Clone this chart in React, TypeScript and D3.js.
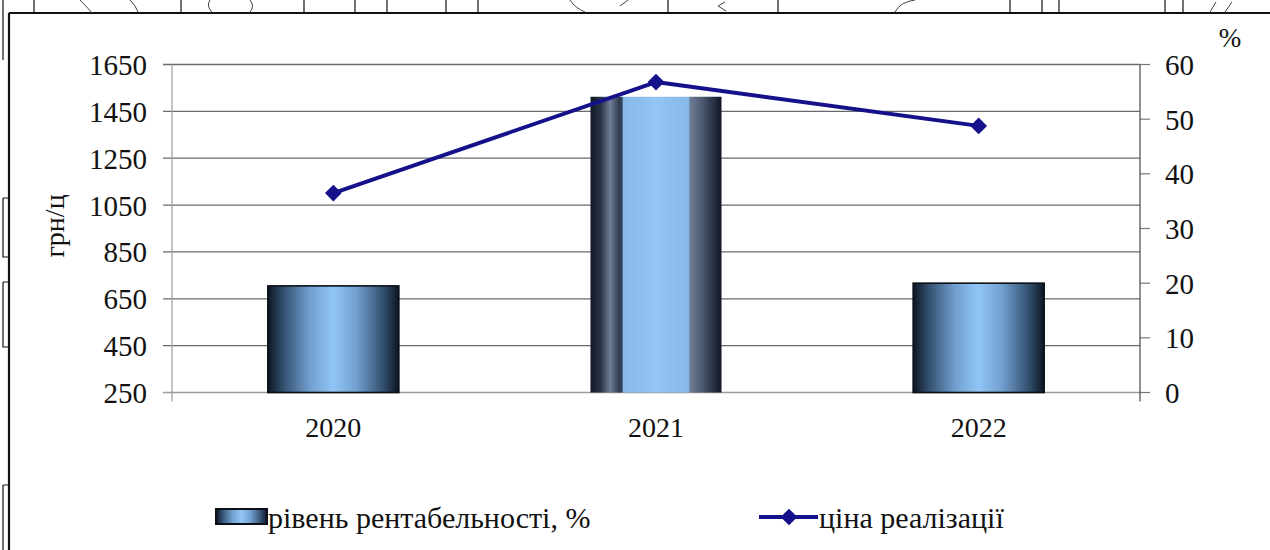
import * as d3 from "d3";

const years = ["2020", "2021", "2022"];
// рівень рентабельності, % (right axis)
const profitability = [19.5, 54.1, 20.0];
// ціна реалізації, грн/ц (left axis)
const price = [1101, 1575, 1388];
const leftTicks = [250, 450, 650, 850, 1050, 1250, 1450, 1650];
const rightTicks = [0, 10, 20, 30, 40, 50, 60];
const barLabel = "рівень рентабельності, %";
const lineLabel = "ціна реалізації";

// scan leftovers of the table above the figure
const topStubs = [34, 181, 304, 355, 387, 446, 478, 668, 778, 1010, 1042, 1059, 1165, 1183];

const W = 1270;
const H = 550;
const FONT = "Liberation Serif";
const NAVY = "#14118a";

export default function App() {
  const plot = { left: 172, right: 1140, top: 64.5, bottom: 392.5 };

  const x = d3.scaleBand<string>().domain(years).range([plot.left, plot.right]);
  const yLeft = d3.scaleLinear().domain([250, 1650]).range([plot.bottom, plot.top]);
  const yRight = d3.scaleLinear().domain([0, 60]).range([plot.bottom, plot.top]);
  const barW = x.bandwidth() * 0.406;
  const cx = (y: string) => (x(y) ?? 0) + x.bandwidth() / 2;

  const linePath = d3
    .line<number>()
    .x((_, i) => cx(years[i]))
    .y((d) => yLeft(d))(price);

  const diamond = d3.symbol().type(d3.symbolSquare).size(140)() ?? "";
  const txt = { fontFamily: FONT };

  return (
    <svg
      width={W}
      height={H}
      style={{ position: "absolute", left: 0, top: 0, background: "#fff" }}
    >
      <defs>
        <linearGradient id="barGrad" x1="0" x2="1" y1="0" y2="0">
          <stop offset="0%" stopColor="#0c1522" />
          <stop offset="12%" stopColor="#33506f" />
          <stop offset="32%" stopColor="#719fcf" />
          <stop offset="50%" stopColor="#90c6f6" />
          <stop offset="68%" stopColor="#719fcf" />
          <stop offset="88%" stopColor="#33506f" />
          <stop offset="100%" stopColor="#0c1522" />
        </linearGradient>
        <linearGradient id="barGrad2" x1="0" x2="1" y1="0" y2="0">
          <stop offset="0%" stopColor="#0f1723" />
          <stop offset="8%" stopColor="#2a3447" />
          <stop offset="15%" stopColor="#6f7d96" />
          <stop offset="22%" stopColor="#2f3b50" />
          <stop offset="24.4%" stopColor="#3a485e" />
          <stop offset="24.5%" stopColor="#86b8e8" />
          <stop offset="50%" stopColor="#92c5f4" />
          <stop offset="75.5%" stopColor="#86b8e8" />
          <stop offset="75.6%" stopColor="#6f7d96" />
          <stop offset="85%" stopColor="#4d5a72" />
          <stop offset="100%" stopColor="#0f1723" />
        </linearGradient>
      </defs>

      {/* frame from the scanned page */}
      <g stroke="#111" fill="none">
        <line x1={9} y1={13} x2={9} y2={H} strokeWidth={2.2} />
        <line x1={9} y1={13} x2={W} y2={13} strokeWidth={2.2} />
        <line x1={3} y1={0} x2={3} y2={60} strokeWidth={1.2} />
        <path d="M3,198 H8 M3,198 V257 H8" strokeWidth={1.2} />
        <path d="M3,282 H8 M3,282 V347 H8" strokeWidth={1.2} />
        <path d="M3,485 H8 M3,485 V550" strokeWidth={1.2} />
        {topStubs.map((sx) => (
          <line key={sx} x1={sx} y1={0} x2={sx} y2={13} strokeWidth={1.2} />
        ))}
        <path d="M80,0 Q88,8 92,13 M130,0 Q136,6 138,12 M210,0 Q206,6 212,12 M250,0 Q255,6 250,12" strokeWidth={1} stroke="#444" />
        <path d="M570,0 Q575,8 585,12 M620,6 L628,0 M725,2 L718,6 L726,11 M895,12 Q900,2 915,0 M1210,12 L1216,2 M1225,12 L1232,2" strokeWidth={1} stroke="#444" />
      </g>

      {/* grid + ticks */}
      <g>
        {leftTicks.map((t) => (
          <line
            key={t}
            x1={163}
            x2={plot.right}
            y1={yLeft(t)}
            y2={yLeft(t)}
            stroke={t === 250 ? "#9a9a9a" : "#6a6a6a"}
            strokeWidth={1.3}
          />
        ))}
        {rightTicks.map((t) => (
          <line
            key={t}
            x1={plot.right}
            x2={plot.right + 10}
            y1={yRight(t)}
            y2={yRight(t)}
            stroke="#777"
            strokeWidth={1.2}
          />
        ))}
        <line x1={plot.left} x2={plot.left} y1={plot.top} y2={plot.bottom + 9} stroke="#a4a4a4" strokeWidth={1.3} />
        <line x1={plot.right} x2={plot.right} y1={plot.top} y2={plot.bottom + 9} stroke="#555" strokeWidth={1.3} />
      </g>

      {/* bars */}
      <g>
        {profitability.map((v, i) => (
          <rect
            key={years[i]}
            x={cx(years[i]) - barW / 2}
            y={yRight(v)}
            width={barW}
            height={yRight(0) - yRight(v)}
            fill={i === 1 ? "url(#barGrad2)" : "url(#barGrad)"}
            stroke={i === 1 ? "none" : "#0a0f18"}
            strokeWidth={1.6}
          />
        ))}
      </g>

      {/* price line */}
      <path d={linePath ?? ""} fill="none" stroke={NAVY} strokeWidth={4} strokeLinejoin="round" />
      {price.map((v, i) => (
        <path
          key={years[i]}
          d={diamond}
          transform={`translate(${cx(years[i])},${yLeft(v)}) rotate(45)`}
          fill={NAVY}
        />
      ))}

      {/* axis labels */}
      <g fill="#111">
        {leftTicks.map((t) => (
          <text key={t} x={147} y={yLeft(t)} dy="0.36em" textAnchor="end" fontSize={29} style={txt}>
            {t}
          </text>
        ))}
        {rightTicks.map((t) => (
          <text key={t} x={1165} y={yRight(t)} dy="0.36em" textAnchor="start" fontSize={29} style={txt}>
            {t}
          </text>
        ))}
        {years.map((yr) => (
          <text key={yr} x={cx(yr)} y={437} textAnchor="middle" fontSize={28} style={txt}>
            {yr}
          </text>
        ))}
        <text transform="translate(64,226) rotate(-90)" textAnchor="middle" fontSize={28} style={txt}>
          грн/ц
        </text>
        <text x={1230} y={47} textAnchor="middle" fontSize={27} style={txt}>
          %
        </text>
      </g>

      {/* legend */}
      <g fill="#111">
        <rect x={216} y={509} width={51} height={15} fill="url(#barGrad)" stroke="#0a0f18" strokeWidth={2} />
        <text x={268} y={528} fontSize={30} style={txt}>
          {barLabel}
        </text>
        <line x1={759} x2={818} y1={517} y2={517} stroke={NAVY} strokeWidth={4} />
        <path d={diamond} transform="translate(789,517) rotate(45)" fill={NAVY} />
        <text x={819} y={528} fontSize={30} style={txt}>
          {lineLabel}
        </text>
      </g>
    </svg>
  );
}
